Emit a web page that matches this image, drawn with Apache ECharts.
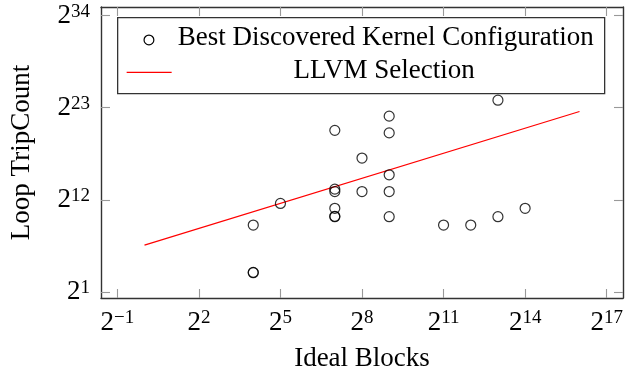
<!DOCTYPE html>
<html>
<head>
<meta charset="utf-8">
<script src="https://cdn.jsdelivr.net/npm/echarts@6/dist/echarts.min.js"></script>
<style>
  html, body { margin: 0; padding: 0; background: #fff; }
  #chart { width: 629px; height: 377px; }
</style>
</head>
<body>
<div id="chart"></div>
<script>
// Both axes are base-2 logarithmic; values are stored as log2 exponents.
const idealBlocksLog2 = [4, 4, 4, 5, 7, 7, 7, 7, 7, 7, 8, 8, 9, 9, 9, 9, 9, 11, 12, 13, 14, 13];
const tripCountLog2   = [9, 3.32, 3.36, 11.58, 20.3, 13.29, 13, 11, 10, 10.05, 17, 13, 22, 20, 15, 13, 10, 9, 9, 10, 11, 23.9];

// LLVM heuristic selection (straight line in log-log space)
const llvmBlocksLog2 = [0, 16];
const llvmTripLog2   = [6.6, 22.55];

const xTickExp = [-1, 2, 5, 8, 11, 14, 17];
const yTickExp = [1, 12, 23, 34];

const seriesNames = ['Best Discovered Kernel Configuration', 'LLVM Selection'];
const axisNames = { x: 'Ideal Blocks', y: 'Loop TripCount' };

const FONT = 'Liberation Serif';

const scatterData = idealBlocksLog2.map((x, i) => [x, tripCountLog2[i]]);
const lineData = llvmBlocksLog2.map((x, i) => [x, llvmTripLog2[i]]);

function powLabel(v) {
  const e = String(Math.round(v)).replace('-', '\u2212');
  return '{b|2}{s|' + e + '}';
}

const labelRich = {
  b: { fontFamily: FONT, fontSize: 27, lineHeight: 27, color: '#000' },
  s: { fontFamily: FONT, fontSize: 19, lineHeight: 14, verticalAlign: 'top', color: '#000' }
};

const frameLine = { show: true, onZero: false, lineStyle: { color: '#333', width: 1.4 } };
const tickStyle = { color: '#999', width: 1.1 };
const nameStyle = { fontFamily: FONT, fontSize: 27, lineHeight: 27, color: '#000' };

const chart = echarts.init(document.getElementById('chart'), null, { renderer: 'canvas' });

chart.setOption({
  animation: false,
  backgroundColor: '#fff',
  grid: { left: 101, right: 6, top: 7, bottom: 74, containLabel: false },
  xAxis: [
    {
      type: 'value', position: 'bottom', min: -1.6, max: 17.6,
      name: axisNames.x, nameLocation: 'middle', nameGap: 47,
      nameTextStyle: nameStyle,
      axisLine: frameLine,
      axisTick: { show: true, inside: true, length: 9, lineStyle: tickStyle, customValues: xTickExp },
      axisLabel: { show: true, margin: 11, customValues: xTickExp, formatter: powLabel, rich: labelRich },
      splitLine: { show: false }
    },
    {
      type: 'value', position: 'top', min: -1.6, max: 17.6,
      axisLine: frameLine,
      axisTick: { show: true, inside: true, length: 9, lineStyle: tickStyle, customValues: xTickExp },
      axisLabel: { show: false },
      splitLine: { show: false }
    }
  ],
  yAxis: [
    {
      type: 'value', position: 'left', min: 0.3, max: 35.02,
      name: axisNames.y, nameLocation: 'middle', nameGap: 65.5,
      nameTextStyle: nameStyle,
      axisLine: frameLine,
      axisTick: { show: true, inside: true, length: 9, lineStyle: tickStyle, customValues: yTickExp },
      axisLabel: { show: true, margin: 11, customValues: yTickExp, formatter: powLabel, rich: labelRich },
      splitLine: { show: false }
    },
    {
      type: 'value', position: 'right', min: 0.3, max: 35.02,
      axisLine: frameLine,
      axisTick: { show: true, inside: true, length: 9, lineStyle: tickStyle, customValues: yTickExp },
      axisLabel: { show: false },
      splitLine: { show: false }
    }
  ],
  series: [
    {
      name: seriesNames[0],
      type: 'scatter',
      xAxisIndex: 0, yAxisIndex: 0,
      symbol: 'circle',
      symbolSize: 10,
      itemStyle: { color: 'rgba(0,0,0,0)', borderColor: '#000', borderWidth: 1.2 },
      data: scatterData,
      z: 3
    },
    {
      name: seriesNames[1],
      type: 'line',
      xAxisIndex: 0, yAxisIndex: 0,
      showSymbol: false,
      lineStyle: { color: '#ff0000', width: 1.2 },
      data: lineData,
      z: 2
    }
  ],
  graphic: [
    {
      type: 'group', left: 117, top: 17, z: 100,
      children: [
        { type: 'rect', shape: { x: 0, y: 0, width: 487, height: 76 },
          style: { fill: '#fff', stroke: '#333', lineWidth: 1.3 } },
        { type: 'circle', shape: { cx: 31.3, cy: 22.3, r: 4.9 },
          style: { fill: 'none', stroke: '#000', lineWidth: 1.2 } },
        { type: 'text', x: 60, y: 20,
          style: { text: seriesNames[0], font: '27px "Liberation Serif"', fill: '#000',
                   textAlign: 'left', textVerticalAlign: 'middle' } },
        { type: 'line', shape: { x1: 9, y1: 54.7, x2: 54, y2: 54.7 },
          style: { stroke: '#ff0000', lineWidth: 1.2 } },
        { type: 'text', x: 266.5, y: 53,
          style: { text: seriesNames[1], font: '27px "Liberation Serif"', fill: '#000',
                   textAlign: 'center', textVerticalAlign: 'middle' } }
      ]
    }
  ]
});
</script>
</body>
</html>
